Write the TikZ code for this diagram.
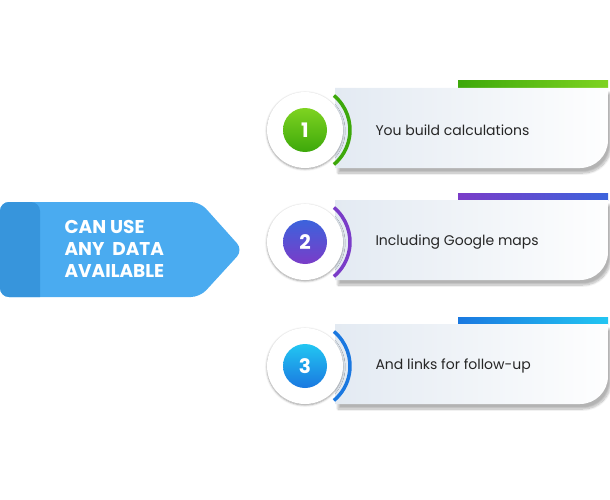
\documentclass[tikz,border=0pt]{standalone}
\usepackage{fontspec}
\setmainfont{Poppins}
\usetikzlibrary{shadows.blur}
\definecolor{tagblue}{HTML}{4AABF0}
\definecolor{tagdark}{HTML}{3795DC}
\definecolor{cardgray}{HTML}{E3EAF2}
\begin{document}
\begin{tikzpicture}[x=1pt,y=-1pt,
  card/.style={left color=cardgray, right color=white!96!cardgray, blur shadow={shadow yshift=-5pt, shadow xshift=3pt, shadow blur steps=10, shadow opacity=30}},
  disc/.style={circle, fill=white, minimum size=76pt, inner sep=0pt, blur shadow={shadow xshift=0pt, shadow yshift=-1pt}},
  numdot/.style={circle, minimum size=44pt, inner sep=0pt, text=white, font=\bfseries\fontsize{20}{20}\selectfont},
  steptext/.style={anchor=west, text=black!85, font=\fontsize{14}{16}\selectfont}]
\useasboundingbox (0,0) rectangle (610,500);
% left tag
\fill[tagblue, rounded corners=9pt] (0,202) -- (200,202) -- (243,250) -- (200,297) -- (0,297) -- cycle;
\fill[tagdark, rounded corners=9pt] (0,202) -- (40,202) [sharp corners] -- (40,297) [rounded corners=9pt] -- (0,297) -- cycle;
\node[anchor=west, text=white, align=left, font=\bfseries\fontsize{18.5}{22}\selectfont] (tag) at (61,249) {CAN USE\\ANY\ \ DATA\\AVAILABLE};
% rows
\foreach \y/\n/\ca/\cb/\txt in {130/1/7ED321/3DA80A/You build calculations,
                                242/2/3C63DC/7A3CC8/Including Google maps,
                                366/3/22C6F2/1A78E0/And links for follow-up}{
  \definecolor{ca}{HTML}{\ca}\definecolor{cb}{HTML}{\cb}
  \fill[left color=cb, right color=ca] (458,\y-49) rectangle (608,\y-42);
  \path[card] (335,\y-42) -- (608,\y-42) [rounded corners=28pt] -- (608,\y+38) [sharp corners] -- (335,\y+38) -- cycle;
  \node[disc] (d\n) at (305,\y) {};
  \draw[line width=3.5pt, cb] ([shift={(-50:45)}]305,\y) arc[start angle=-50, end angle=50, radius=45];
  \node[numdot, top color=ca, bottom color=cb] (n\n) at (d\n.center) {\n};
  \node[steptext] (t\n) at (372,\y) {\txt};
}
\end{tikzpicture}
\end{document}
